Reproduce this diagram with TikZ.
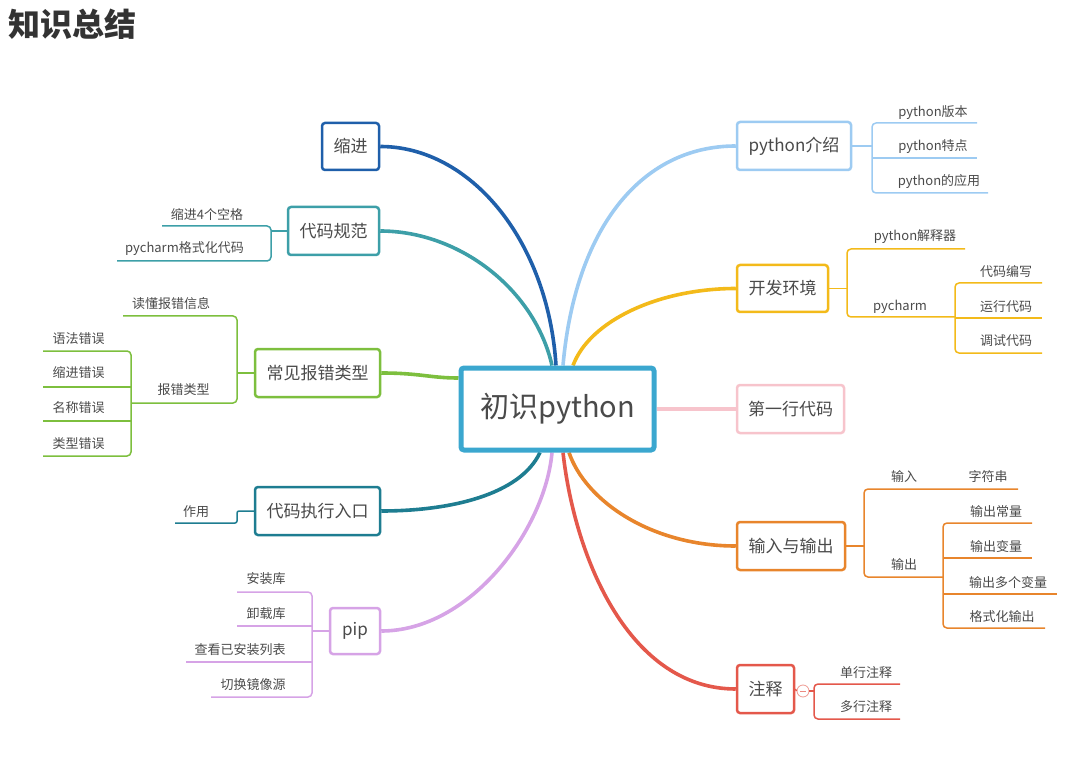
\documentclass[tikz,border=0pt]{standalone}
\usepackage{fontspec}
\setmainfont{Noto Sans CJK SC}
\usetikzlibrary{backgrounds}
\definecolor{cA}{HTML}{1F5FAA}
\definecolor{cB}{HTML}{3D9FA8}
\definecolor{cC}{HTML}{7DBF3E}
\definecolor{cD}{HTML}{1E7D91}
\definecolor{cE}{HTML}{D6A3E6}
\definecolor{rA}{HTML}{9DCBF2}
\definecolor{rB}{HTML}{F3BA1A}
\definecolor{rC}{HTML}{F7C4CC}
\definecolor{rD}{HTML}{E8852C}
\definecolor{rE}{HTML}{E4584B}
\definecolor{ctrc}{HTML}{3BA7CF}
\definecolor{txt}{HTML}{4A4A4A}
\tikzset{
  mainbox/.style={draw, line width=2.5pt, rounded corners=3pt, fill=white, text=txt,
    font=\fontsize{17}{20}\selectfont, inner sep=0pt},
  sublabel/.style={font=\fontsize{13}{15}\selectfont, text=txt, inner sep=0pt},
  branch/.style={line width=3.6pt},
  twig/.style={line width=1.5pt, rounded corners=4pt},
}
\begin{document}
\begin{tikzpicture}[x=1pt,y=-1pt]
\useasboundingbox (0,0) rectangle (1069,762);
\node[anchor=west, font=\fontsize{32}{36}\selectfont\bfseries, text=black!80, inner sep=0pt] (title) at (8,24) {知识总结};

% center
\node[mainbox, draw=ctrc, line width=5pt, minimum width=193pt, minimum height=82pt,
  font=\fontsize{29}{33}\selectfont] (ctr) at (557.5,409) {初识python};

% left main nodes
\node[mainbox, draw=cA, minimum width=57pt, minimum height=47pt] (suojin) at (350.5,146.5) {缩进};
\node[mainbox, draw=cB, minimum width=91pt, minimum height=48pt] (guifan) at (333.5,231) {代码规范};
\node[mainbox, draw=cC, minimum width=125pt, minimum height=48pt] (baocuo) at (317.5,373) {常见报错类型};
\node[mainbox, draw=cD, minimum width=125pt, minimum height=48pt] (rukou) at (317.5,511) {代码执行入口};
\node[mainbox, draw=cE, minimum width=50pt, minimum height=46pt] (pip) at (355,631) {pip};

% right main nodes
\node[mainbox, draw=rA, minimum width=114pt, minimum height=48pt] (intro) at (794,146) {python介绍};
\node[mainbox, draw=rB, minimum width=91pt, minimum height=47pt] (env) at (782.5,288.5) {开发环境};
\node[mainbox, draw=rC, minimum width=107pt, minimum height=48pt] (first) at (790.5,409) {第一行代码};
\node[mainbox, draw=rD, minimum width=108pt, minimum height=48pt] (io) at (791,546) {输入与输出};
\node[mainbox, draw=rE, minimum width=57pt, minimum height=48pt] (zhushi) at (765.5,689) {注释};

% main branches
\begin{pgfonlayer}{background}
\draw[branch, cA] (suojin.east) .. controls (470,146.5) and (548,240) .. ([xshift=-1.5pt]ctr.north);
\draw[branch, cB] (guifan.east) .. controls (460,231) and (535,290) .. ([xshift=-5.5pt]ctr.north);
\draw[branch, cC] (baocuo.east) .. controls (420,373) and (430,378) .. ([yshift=31pt]ctr.west);
\draw[branch, cD] (rukou.east) .. controls (450,511) and (520,495) .. ([xshift=-17.5pt]ctr.south);
\draw[branch, cE] (pip.east) .. controls (470,631) and (545,530) .. ([xshift=-5.5pt]ctr.south);
\draw[branch, rA] (intro.west) .. controls (640,146) and (575,230) .. ([xshift=5.5pt]ctr.north);
\draw[branch, rB] (env.west) .. controls (660,288.5) and (590,320) .. ([xshift=15.5pt]ctr.north);
\draw[branch, rC] (ctr.east) -- (first.west);
\draw[branch, rD] (io.west) .. controls (650,546) and (585,500) .. ([xshift=11.5pt]ctr.south);
\draw[branch, rE] (zhushi.west) .. controls (630,689) and (575,560) .. ([xshift=5.5pt]ctr.south);
\end{pgfonlayer}

% ---- 代码规范 twigs
\node[sublabel] (gfa) at (207,215) {缩进4个空格};
\node[sublabel] (gfb) at (184.5,249) {pycharm格式化代码};
\coordinate (gfae) at (162,226);
\coordinate (gfbe) at (117,261);
\draw[twig, cB] (gfae) -- (271,226) -- (271,261) -- (gfbe);
\draw[twig, cB] (guifan.west) -- (271,231);

% ---- 常见报错类型 twigs
\node[sublabel] (bca) at (171,304) {读懂报错信息};
\node[sublabel] (bcb) at (183.5,390) {报错类型};
\coordinate (bcae) at (123,316);
\coordinate (bcbe) at (131,403);
\draw[twig, cC] (bcae) -- (237,316) -- (237,403) -- (bcbe);
\draw[twig, cC] (baocuo.west) -- (237,373);
\node[sublabel] (e1) at (78.5,339) {语法错误};
\node[sublabel] (e2) at (78.5,373) {缩进错误};
\node[sublabel] (e3) at (78.5,408) {名称错误};
\node[sublabel] (e4) at (78.5,444) {类型错误};
\coordinate (e1e) at (43,351);
\coordinate (e2e) at (43,387);
\coordinate (e3e) at (43,421);
\coordinate (e4e) at (43,456);
\draw[twig, cC] (e1e) -- (131,351) -- (131,456) -- (e4e);
\draw[twig, cC] (e2e) -- (131,387);
\draw[twig, cC] (e3e) -- (131,421);

% ---- 代码执行入口 twig
\node[sublabel] (zy) at (196,512) {作用};
\coordinate (zye) at (175,523);
\draw[twig, cD, rounded corners=2pt] (zye) -- (237,523) -- (237,511) -- (rukou.west);

% ---- pip twigs
\node[sublabel] (p1) at (266,579) {安装库};
\node[sublabel] (p2) at (266,614) {卸载库};
\node[sublabel] (p3) at (240,650) {查看已安装列表};
\node[sublabel] (p4) at (253,685) {切换镜像源};
\coordinate (p1e) at (237,592);
\coordinate (p2e) at (237,626);
\coordinate (p3e) at (186,662);
\coordinate (p4e) at (211,697);
\draw[twig, cE] (p1e) -- (312,592) -- (312,697) -- (p4e);
\draw[twig, cE] (p2e) -- (312,626);
\draw[twig, cE] (p3e) -- (312,662);
\draw[twig, cE] (pip.west) -- (312,631);

% ---- python介绍 twigs
\node[sublabel] (i1) at (933,113) {python版本};
\node[sublabel] (i2) at (933,147) {python特点};
\node[sublabel] (i3) at (939,182) {python的应用};
\coordinate (i1e) at (977,123);
\coordinate (i2e) at (977,158);
\coordinate (i3e) at (988,193);
\draw[twig, rA] (i1e) -- (872,123) -- (872,193) -- (i3e);
\draw[twig, rA] (872,158) -- (i2e);
\draw[twig, rA] (intro.east) -- (872,146);

% ---- 开发环境 twigs
\node[sublabel] (v1) at (915,237) {python解释器};
\node[sublabel] (v2) at (900,307) {pycharm};
\coordinate (v1e) at (965,249);
\draw[twig, rB] (v1e) -- (847,249) -- (847,317) -- (955,317);
\draw[twig, rB] (env.east) -- (847,288.5);
\node[sublabel] (w1) at (1006,272) {代码编写};
\node[sublabel] (w2) at (1006,307) {运行代码};
\node[sublabel] (w3) at (1006,341) {调试代码};
\coordinate (w1e) at (1042,283);
\coordinate (w2e) at (1042,318);
\coordinate (w3e) at (1042,353);
\draw[twig, rB] (w1e) -- (955,283) -- (955,353) -- (w3e);
\draw[twig, rB] (955,318) -- (w2e);

% ---- 输入与输出 twigs
\node[sublabel] (in) at (904,477) {输入};
\node[sublabel] (out) at (904,565) {输出};
\node[sublabel] (zfc) at (988,477) {字符串};
\coordinate (zfce) at (1018,489);
\draw[twig, rD] (zfce) -- (864,489) -- (864,577) -- (943,577);
\draw[twig, rD] (io.east) -- (864,546);
\node[sublabel] (o1) at (996,512) {输出常量};
\node[sublabel] (o2) at (996,547) {输出变量};
\node[sublabel] (o3) at (1008,583) {输出多个变量};
\node[sublabel] (o4) at (1002,617) {格式化输出};
\coordinate (o1e) at (1032,523);
\coordinate (o2e) at (1032,558);
\coordinate (o3e) at (1057,594);
\coordinate (o4e) at (1045,628);
\draw[twig, rD] (o1e) -- (943,523) -- (943,628) -- (o4e);
\draw[twig, rD] (943,558) -- (o2e);
\draw[twig, rD] (943,594) -- (o3e);

% ---- 注释 twigs
\node[draw=rE!60, line width=0.8pt, circle, fill=white, minimum size=12pt, inner sep=0pt] (fold) at (803,691) {};
\draw[rE!70, line width=0.8pt] ([xshift=-3pt]fold.center) -- ([xshift=3pt]fold.center);
\draw[line width=1.5pt, rE] (zhushi.east) -- (fold.west);
\node[sublabel] (z1) at (866,673) {单行注释};
\node[sublabel] (z2) at (866,707) {多行注释};
\coordinate (z1e) at (900,684);
\coordinate (z2e) at (900,719);
\draw[twig, rE] (z1e) -- (814,684) -- (814,719) -- (z2e);
\draw[twig, rE] (fold.east) -- (814,691);
\end{tikzpicture}
\end{document}
